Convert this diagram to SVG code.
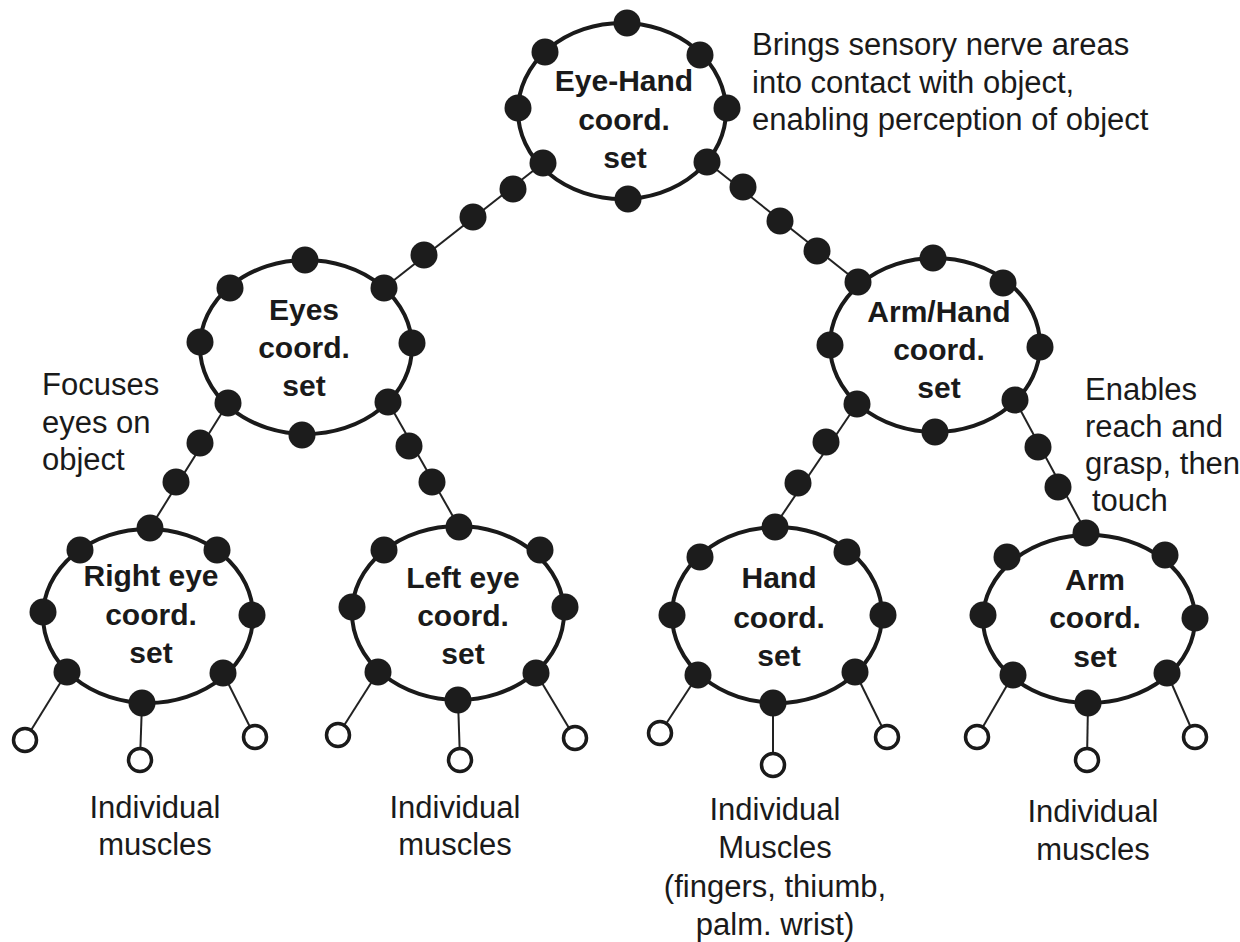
<svg xmlns="http://www.w3.org/2000/svg" width="1240" height="942" viewBox="0 0 1240 942">
<style>
.ring{fill:none;stroke:#1a1a1a;stroke-width:4}
.dot{fill:#1c1c1c}
.link{stroke:#222;stroke-width:2;fill:none}
.leaf{fill:#fff;stroke:#1a1a1a;stroke-width:3.5}
.lbl{font-family:"Liberation Sans",Arial,sans-serif;font-weight:bold;font-size:30px;fill:#1a1a1a;text-anchor:middle}
.note{font-family:"Liberation Sans",Arial,sans-serif;font-size:31px;fill:#1a1a1a}
.cap{font-family:"Liberation Sans",Arial,sans-serif;font-size:31px;fill:#1a1a1a;text-anchor:middle}
</style>
<rect width="1240" height="942" fill="#fff"/>
<g id="connectors">
<line class="link" x1="543" y1="163" x2="384" y2="288"/>
<line class="link" x1="707" y1="162" x2="858" y2="282"/>
<line class="link" x1="228" y1="403" x2="150" y2="528"/>
<line class="link" x1="388" y1="402" x2="459" y2="527"/>
<line class="link" x1="857" y1="404" x2="774" y2="527"/>
<line class="link" x1="1015" y1="400" x2="1086" y2="532"/>
<circle class="dot" cx="513" cy="189" r="13.5"/>
<circle class="dot" cx="473" cy="217" r="13.5"/>
<circle class="dot" cx="424" cy="255" r="13.5"/>
<circle class="dot" cx="743" cy="187" r="13.5"/>
<circle class="dot" cx="780" cy="221" r="13.5"/>
<circle class="dot" cx="817" cy="251" r="13.5"/>
<circle class="dot" cx="200" cy="443" r="13.5"/>
<circle class="dot" cx="176" cy="482" r="13.5"/>
<circle class="dot" cx="409" cy="446" r="13.5"/>
<circle class="dot" cx="432" cy="482" r="13.5"/>
<circle class="dot" cx="826" cy="442" r="13.5"/>
<circle class="dot" cx="798" cy="483" r="13.5"/>
<circle class="dot" cx="1038" cy="447" r="13.5"/>
<circle class="dot" cx="1058" cy="487" r="13.5"/>
<line class="link" x1="67" y1="672" x2="25" y2="740"/>
<line class="link" x1="142" y1="703" x2="140" y2="760"/>
<line class="link" x1="223" y1="673" x2="255" y2="737"/>
<line class="link" x1="378" y1="672" x2="338" y2="735"/>
<line class="link" x1="458" y1="700" x2="460" y2="760"/>
<line class="link" x1="536" y1="673" x2="575" y2="738"/>
<line class="link" x1="698" y1="675" x2="660" y2="733"/>
<line class="link" x1="773" y1="703" x2="773" y2="765"/>
<line class="link" x1="855" y1="672" x2="887" y2="737"/>
<line class="link" x1="1013" y1="675" x2="977" y2="737"/>
<line class="link" x1="1088" y1="703" x2="1087" y2="760"/>
<line class="link" x1="1167" y1="673" x2="1195" y2="737"/>
</g>
<g id="eye-hand">
<ellipse class="ring" cx="622" cy="111" rx="104" ry="88"/>
<circle class="dot" cx="627" cy="23" r="13.5"/>
<circle class="dot" cx="545" cy="52" r="13.5"/>
<circle class="dot" cx="700" cy="55" r="13.5"/>
<circle class="dot" cx="518" cy="108" r="13.5"/>
<circle class="dot" cx="727" cy="108" r="13.5"/>
<circle class="dot" cx="543" cy="163" r="13.5"/>
<circle class="dot" cx="707" cy="162" r="13.5"/>
<circle class="dot" cx="628" cy="199" r="13.5"/>
<text class="lbl" x="624" y="91">Eye-Hand</text>
<text class="lbl" x="624" y="130">coord.</text>
<text class="lbl" x="625" y="168">set</text>
</g>
<g id="eyes">
<ellipse class="ring" cx="306" cy="347" rx="106" ry="87"/>
<circle class="dot" cx="305" cy="260" r="13.5"/>
<circle class="dot" cx="230" cy="288" r="13.5"/>
<circle class="dot" cx="384" cy="288" r="13.5"/>
<circle class="dot" cx="200" cy="342" r="13.5"/>
<circle class="dot" cx="412" cy="343" r="13.5"/>
<circle class="dot" cx="228" cy="403" r="13.5"/>
<circle class="dot" cx="388" cy="402" r="13.5"/>
<circle class="dot" cx="302" cy="435" r="13.5"/>
<text class="lbl" x="304" y="320">Eyes</text>
<text class="lbl" x="304" y="358">coord.</text>
<text class="lbl" x="304" y="396">set</text>
</g>
<g id="arm-hand">
<ellipse class="ring" cx="935" cy="345" rx="105" ry="87"/>
<circle class="dot" cx="933" cy="258" r="13.5"/>
<circle class="dot" cx="858" cy="282" r="13.5"/>
<circle class="dot" cx="1003" cy="283" r="13.5"/>
<circle class="dot" cx="830" cy="345" r="13.5"/>
<circle class="dot" cx="1040" cy="347" r="13.5"/>
<circle class="dot" cx="857" cy="404" r="13.5"/>
<circle class="dot" cx="1015" cy="400" r="13.5"/>
<circle class="dot" cx="935" cy="432" r="13.5"/>
<text class="lbl" x="939" y="322">Arm/Hand</text>
<text class="lbl" x="939" y="360">coord.</text>
<text class="lbl" x="939" y="398">set</text>
</g>
<g id="right-eye">
<ellipse class="ring" cx="148" cy="616" rx="105" ry="87"/>
<circle class="dot" cx="150" cy="528" r="13.5"/>
<circle class="dot" cx="80" cy="550" r="13.5"/>
<circle class="dot" cx="217" cy="550" r="13.5"/>
<circle class="dot" cx="43" cy="612" r="13.5"/>
<circle class="dot" cx="252" cy="615" r="13.5"/>
<circle class="dot" cx="67" cy="672" r="13.5"/>
<circle class="dot" cx="223" cy="673" r="13.5"/>
<circle class="dot" cx="142" cy="703" r="13.5"/>
<text class="lbl" x="151" y="586">Right eye</text>
<text class="lbl" x="151" y="625">coord.</text>
<text class="lbl" x="151" y="663">set</text>
<circle class="leaf" cx="25" cy="740" r="11.5"/>
<circle class="leaf" cx="140" cy="760" r="11.5"/>
<circle class="leaf" cx="255" cy="737" r="11.5"/>
</g>
<g id="left-eye">
<ellipse class="ring" cx="458" cy="613" rx="106" ry="87"/>
<circle class="dot" cx="459" cy="527" r="13.5"/>
<circle class="dot" cx="384" cy="550" r="13.5"/>
<circle class="dot" cx="540" cy="550" r="13.5"/>
<circle class="dot" cx="352" cy="607" r="13.5"/>
<circle class="dot" cx="565" cy="607" r="13.5"/>
<circle class="dot" cx="378" cy="672" r="13.5"/>
<circle class="dot" cx="536" cy="673" r="13.5"/>
<circle class="dot" cx="458" cy="700" r="13.5"/>
<text class="lbl" x="463" y="588">Left eye</text>
<text class="lbl" x="463" y="626">coord.</text>
<text class="lbl" x="463" y="664">set</text>
<circle class="leaf" cx="338" cy="735" r="11.5"/>
<circle class="leaf" cx="460" cy="760" r="11.5"/>
<circle class="leaf" cx="575" cy="738" r="11.5"/>
</g>
<g id="hand">
<ellipse class="ring" cx="777" cy="615" rx="105" ry="88"/>
<circle class="dot" cx="775" cy="527" r="13.5"/>
<circle class="dot" cx="700" cy="557" r="13.5"/>
<circle class="dot" cx="847" cy="552" r="13.5"/>
<circle class="dot" cx="672" cy="615" r="13.5"/>
<circle class="dot" cx="883" cy="615" r="13.5"/>
<circle class="dot" cx="698" cy="675" r="13.5"/>
<circle class="dot" cx="855" cy="672" r="13.5"/>
<circle class="dot" cx="773" cy="703" r="13.5"/>
<text class="lbl" x="779" y="588">Hand</text>
<text class="lbl" x="779" y="628">coord.</text>
<text class="lbl" x="779" y="666">set</text>
<circle class="leaf" cx="660" cy="733" r="11.5"/>
<circle class="leaf" cx="773" cy="765" r="11.5"/>
<circle class="leaf" cx="887" cy="737" r="11.5"/>
</g>
<g id="arm">
<ellipse class="ring" cx="1089" cy="619" rx="106" ry="84"/>
<circle class="dot" cx="1086" cy="533" r="13.5"/>
<circle class="dot" cx="1007" cy="557" r="13.5"/>
<circle class="dot" cx="1165" cy="555" r="13.5"/>
<circle class="dot" cx="983" cy="615" r="13.5"/>
<circle class="dot" cx="1195" cy="618" r="13.5"/>
<circle class="dot" cx="1013" cy="675" r="13.5"/>
<circle class="dot" cx="1167" cy="673" r="13.5"/>
<circle class="dot" cx="1088" cy="703" r="13.5"/>
<text class="lbl" x="1095" y="590">Arm</text>
<text class="lbl" x="1095" y="628">coord.</text>
<text class="lbl" x="1095" y="667">set</text>
<circle class="leaf" cx="977" cy="737" r="11.5"/>
<circle class="leaf" cx="1087" cy="760" r="11.5"/>
<circle class="leaf" cx="1195" cy="737" r="11.5"/>
</g>
<g id="notes">
<text class="note" x="752" y="55">Brings sensory nerve areas</text>
<text class="note" x="752" y="93">into contact with object,</text>
<text class="note" x="752" y="130">enabling perception of object</text>
<text class="note" x="42" y="395">Focuses</text>
<text class="note" x="42" y="433">eyes on</text>
<text class="note" x="42" y="470">object</text>
<text class="note" x="1085" y="400">Enables</text>
<text class="note" x="1085" y="437">reach and</text>
<text class="note" x="1085" y="474">grasp, then</text>
<text class="note" x="1092" y="511">touch</text>
<text class="cap" x="155" y="818">Individual</text>
<text class="cap" x="155" y="855">muscles</text>
<text class="cap" x="455" y="818">Individual</text>
<text class="cap" x="455" y="855">muscles</text>
<text class="cap" x="775" y="820">Individual</text>
<text class="cap" x="775" y="858">Muscles</text>
<text class="cap" x="775" y="897">(fingers, thiumb,</text>
<text class="cap" x="775" y="935">palm. wrist)</text>
<text class="cap" x="1093" y="822">Individual</text>
<text class="cap" x="1093" y="860">muscles</text>
</g>
</svg>
